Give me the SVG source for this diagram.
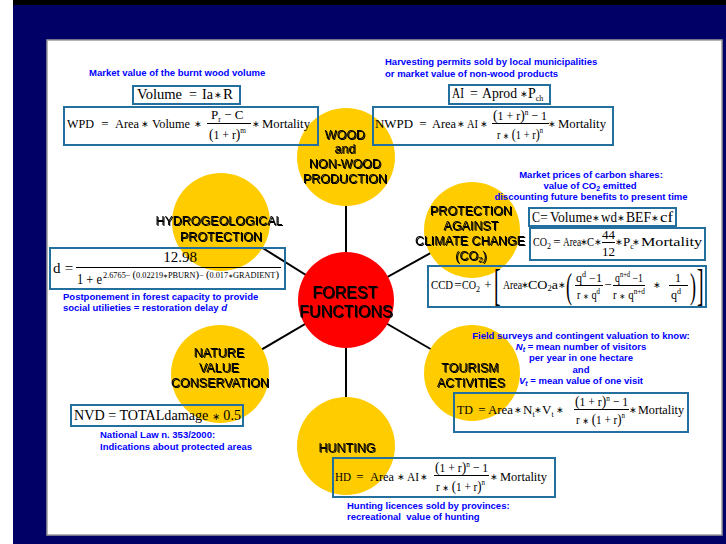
<svg xmlns="http://www.w3.org/2000/svg" width="726" height="544" viewBox="0 0 726 544">
<defs>
<style>
.bl{font-family:"Liberation Sans",Arial,sans-serif;font-weight:bold;font-size:9.5px;fill:#0000ff}
.lb{font-family:"Liberation Sans",Arial,sans-serif;font-size:12.5px;fill:#000;text-anchor:middle;filter:url(#sh)}
.m{font-family:"Liberation Serif","Times New Roman",serif;font-size:13px;fill:#000}
.m14{font-size:14px}
.m15{font-size:15px}
.c{text-anchor:middle}
.op{font-family:"DejaVu Sans",sans-serif;font-size:9px;fill:#000;text-anchor:middle}
.s{font-size:8px}
.bx{fill:none;stroke:#236f9e;stroke-width:2}
.fl{stroke:#000;stroke-width:1}
.yc{fill:#ffcc00}
.cn line{stroke:#000;stroke-width:2}
</style>
<filter id="sh" x="-10%" y="-30%" width="120%" height="160%">
<feOffset in="SourceAlpha" dx="0.8" dy="0.8" result="o"/>
<feMerge><feMergeNode in="o"/><feMergeNode in="SourceGraphic"/></feMerge>
</filter>
</defs>
<rect width="726" height="544" fill="#fff"/>
<rect x="13" y="0" width="713" height="544" fill="#000066"/>
<rect x="13" y="0" width="713" height="5" fill="#000"/>
<rect x="47" y="40" width="675" height="495" fill="#fff" stroke="#9a9a9a" stroke-width="1.5"/>

<g id="connectors" class="cn">
<line x1="346" y1="300" x2="346" y2="157"/>
<line x1="346" y1="300" x2="221" y2="222"/>
<line x1="346" y1="300" x2="472" y2="230"/>
<line x1="346" y1="300" x2="220" y2="374"/>
<line x1="346" y1="300" x2="472" y2="373"/>
<line x1="346" y1="300" x2="346" y2="446"/>
</g>

<g id="forest-functions">
<circle cx="346" cy="300" r="48" fill="#ff0000"/>
<text class="lb" style="font-size:16px"><tspan x="345" y="298">FOREST</tspan><tspan x="346" y="317">FUNCTIONS</tspan></text>
</g>
<g id="wood-production">
<circle class="yc" cx="346" cy="157" r="49"/>
<text class="lb"><tspan x="345" y="139">WOOD</tspan><tspan x="345" y="153">and</tspan><tspan x="345" y="168">NON-WOOD</tspan><tspan x="345" y="183">PRODUCTION</tspan></text>
</g>
<g id="hydrogeological">
<circle class="yc" cx="221" cy="222" r="49"/>
<text class="lb"><tspan x="219" y="225">HYDROGEOLOGICAL</tspan><tspan x="221" y="241">PROTECTION</tspan></text>
</g>
<g id="climate-change">
<circle class="yc" cx="472" cy="230" r="48"/>
<text class="lb"><tspan x="471" y="215">PROTECTION</tspan><tspan x="471" y="230">AGAINST</tspan><tspan x="470" y="245">CLIMATE CHANGE</tspan><tspan x="471" y="260">(CO<tspan font-size="8" dy="2">2</tspan><tspan dy="-2">)</tspan></tspan></text>
</g>
<g id="nature-value">
<circle class="yc" cx="220" cy="374" r="49"/>
<text class="lb"><tspan x="219" y="357">NATURE</tspan><tspan x="219" y="372">VALUE</tspan><tspan x="220" y="387">CONSERVATION</tspan></text>
</g>
<g id="tourism">
<circle class="yc" cx="472" cy="373" r="48"/>
<text class="lb"><tspan x="470" y="372">TOURISM</tspan><tspan x="471" y="387">ACTIVITIES</tspan></text>
</g>
<g id="hunting">
<circle class="yc" cx="346" cy="446" r="49"/>
<text class="lb" x="347" y="452">HUNTING</text>
</g>

<g id="wpd-formula">
<text class="bl" x="89" y="76">Market value of the burnt wood volume</text>
<rect class="bx" x="133" y="86" width="107" height="18"/>
<text class="m m14" x="137" y="99" textLength="45" lengthAdjust="spacingAndGlyphs">Volume</text>
<text class="m m14 c" x="193" y="99">=</text>
<text class="m m14" x="202" y="99" textLength="11" lengthAdjust="spacingAndGlyphs">Ia</text>
<text class="op" x="218" y="98">∗</text>
<text class="m m14" x="223" y="99" textLength="10" lengthAdjust="spacingAndGlyphs">R</text>
<rect class="bx" x="64" y="107" width="254" height="38"/>
<text class="m" x="67" y="128" textLength="27" lengthAdjust="spacingAndGlyphs">WPD</text>
<text class="m c" x="105" y="128">=</text>
<text class="m" x="115" y="128" textLength="24" lengthAdjust="spacingAndGlyphs">Area</text>
<text class="op" x="145" y="127">∗</text>
<text class="m" x="152" y="128" textLength="38" lengthAdjust="spacingAndGlyphs">Volume</text>
<text class="op" x="198" y="127">∗</text>
<text class="m" x="211" y="119">P<tspan class="s" dy="3">r</tspan><tspan dy="-3"> − C</tspan></text>
<line class="fl" x1="207" y1="123.5" x2="251" y2="123.5"/>
<text class="m" x="209" y="139" textLength="37" lengthAdjust="spacingAndGlyphs"><tspan font-size="15">(</tspan>1 + r<tspan font-size="15">)</tspan><tspan class="s" dy="-6">m</tspan></text>
<text class="op" x="256" y="127">∗</text>
<text class="m" x="262" y="128" textLength="48" lengthAdjust="spacingAndGlyphs">Mortality</text>
</g>

<g id="nwpd-formula">
<text class="bl" x="385" y="65">Harvesting permits sold by local municipalities</text>
<text class="bl" x="385" y="76.5">or market value of non-wood products</text>
<rect class="bx" x="449" y="85" width="101" height="19"/>
<text class="m m14" x="452" y="98" textLength="12" lengthAdjust="spacingAndGlyphs">AI</text>
<text class="m m14 c" x="474" y="98">=</text>
<text class="m m14" x="482" y="98" textLength="35" lengthAdjust="spacingAndGlyphs">Aprod</text>
<text class="op" x="524" y="97">∗</text>
<text class="m m14" x="528" y="98">P<tspan class="s" dy="3">ch</tspan></text>
<rect class="bx" x="373" y="107" width="240" height="38"/>
<text class="m" x="375" y="128" textLength="38" lengthAdjust="spacingAndGlyphs">NWPD</text>
<text class="m c" x="423" y="128">=</text>
<text class="m" x="432" y="128" textLength="24" lengthAdjust="spacingAndGlyphs">Area</text>
<text class="op" x="461" y="127">∗</text>
<text class="m" x="467" y="128" textLength="11" lengthAdjust="spacingAndGlyphs">AI</text>
<text class="op" x="484" y="127">∗</text>
<text class="m" x="493" y="120" textLength="54" lengthAdjust="spacingAndGlyphs"><tspan font-size="15">(</tspan>1 + r<tspan font-size="15">)</tspan><tspan class="s" dy="-5">n</tspan><tspan dy="5"> − 1</tspan></text>
<line class="fl" x1="492" y1="123.5" x2="549" y2="123.5"/>
<text class="m" x="497" y="139" textLength="46" lengthAdjust="spacingAndGlyphs">r <tspan style="font-family:'DejaVu Sans';font-size:9px">∗</tspan> <tspan font-size="15">(</tspan>1 + r<tspan font-size="15">)</tspan><tspan class="s" dy="-6">n</tspan></text>
<text class="op" x="552" y="127">∗</text>
<text class="m" x="558" y="128" textLength="48" lengthAdjust="spacingAndGlyphs">Mortality</text>
</g>

<g id="carbon-formula">
<text class="bl c" x="591" y="178">Market prices of carbon shares:</text>
<text class="bl c" x="590" y="189">value of CO<tspan font-size="7" dy="2">2</tspan><tspan dy="-2"> emitted</tspan></text>
<text class="bl c" x="591" y="200">discounting future benefits to present time</text>
<rect class="bx" x="529" y="208" width="147" height="18"/>
<text class="m m14" x="532" y="222" textLength="8" lengthAdjust="spacingAndGlyphs">C</text>
<text class="m m14 c" x="544" y="222">=</text>
<text class="m m14" x="550" y="222" textLength="42" lengthAdjust="spacingAndGlyphs">Volume</text>
<text class="op" x="596" y="221">∗</text>
<text class="m m14" x="601" y="222" textLength="16" lengthAdjust="spacingAndGlyphs">wd</text>
<text class="op" x="621" y="221">∗</text>
<text class="m m14" x="626" y="222" textLength="25" lengthAdjust="spacingAndGlyphs">BEF</text>
<text class="op" x="655" y="221">∗</text>
<text class="m m14" x="660" y="222" textLength="13" lengthAdjust="spacingAndGlyphs">cf</text>
<rect class="bx" x="530" y="228" width="175" height="32"/>
<text class="m" x="533" y="246" textLength="14" lengthAdjust="spacingAndGlyphs">CO</text>
<text class="m s" x="547" y="249">2</text>
<text class="m c" x="557" y="246">=</text>
<text class="m" x="563" y="246" textLength="18" lengthAdjust="spacingAndGlyphs">Area</text>
<text class="op" x="584" y="245">∗</text>
<text class="m" x="587" y="246" textLength="7" lengthAdjust="spacingAndGlyphs">C</text>
<text class="op" x="598" y="245">∗</text>
<text class="m c" x="608.5" y="239">44</text>
<line class="fl" x1="602" y1="242.5" x2="615" y2="242.5"/>
<text class="m c" x="608.5" y="256">12</text>
<text class="op" x="619" y="245">∗</text>
<text class="m" x="623" y="246">P<tspan class="s" dy="3">c</tspan></text>
<text class="op" x="636" y="245">∗</text>
<text class="m" x="641" y="246" textLength="61" lengthAdjust="spacingAndGlyphs">Mortality</text>
<rect class="bx" x="428" y="266" width="278" height="41"/>
<text class="m" x="431" y="289" textLength="22" lengthAdjust="spacingAndGlyphs">CCD</text>
<text class="m c" x="458" y="289">=</text>
<text class="m" x="462" y="289" textLength="14" lengthAdjust="spacingAndGlyphs">CO</text>
<text class="m s" x="476" y="292">2</text>
<text class="m c" x="488" y="289">+</text>
<text class="m" transform="translate(494 300) scale(0.45 1)" style="font-size:44px">[</text>
<text class="m" x="503" y="289" textLength="19" lengthAdjust="spacingAndGlyphs">Area</text>
<text class="op" x="525" y="288">∗</text>
<text class="m" x="528" y="289" textLength="30" lengthAdjust="spacingAndGlyphs">CO<tspan class="s" dy="2">2</tspan><tspan dy="-2">a</tspan></text>
<text class="op" x="562" y="288">∗</text>
<text class="m" transform="translate(566 298) scale(0.5 1)" style="font-size:36px">(</text>
<text class="m" x="576" y="282" style="font-size:12px" textLength="26" lengthAdjust="spacingAndGlyphs">q<tspan class="s" dy="-5">d</tspan><tspan dy="5"> −1</tspan></text>
<line class="fl" x1="575" y1="285.5" x2="603" y2="285.5"/>
<text class="m" x="577" y="299" style="font-size:12px" textLength="23" lengthAdjust="spacingAndGlyphs">r <tspan style="font-family:'DejaVu Sans';font-size:8px">∗</tspan> q<tspan class="s" dy="-5">d</tspan></text>
<text class="m c" x="608" y="289">−</text>
<text class="m" x="615" y="282" style="font-size:12px" textLength="28" lengthAdjust="spacingAndGlyphs">q<tspan class="s" dy="-5">n+d</tspan><tspan dy="5"> −1</tspan></text>
<line class="fl" x1="613" y1="285.5" x2="645" y2="285.5"/>
<text class="m" x="613" y="299" style="font-size:12px" textLength="32" lengthAdjust="spacingAndGlyphs">r <tspan style="font-family:'DejaVu Sans';font-size:8px">∗</tspan> q<tspan class="s" dy="-5">n+d</tspan></text>
<text class="op" x="657" y="288">∗</text>
<text class="m c" x="678" y="282" style="font-size:12px">1</text>
<line class="fl" x1="669" y1="285.5" x2="688" y2="285.5"/>
<text class="m" x="671" y="299" style="font-size:12px">q<tspan class="s" dy="-5">d</tspan></text>
<text class="m" transform="translate(690 298) scale(0.5 1)" style="font-size:36px">)</text>
<text class="m" transform="translate(697 300) scale(0.45 1)" style="font-size:44px">]</text>
</g>

<g id="hydro-formula">
<rect class="bx" x="50" y="248" width="235" height="41"/>
<text class="m m15" x="53" y="273">d</text>
<text class="m m15 c" x="69" y="273">=</text>
<text class="m m15 c" x="180" y="262">12.98</text>
<line class="fl" x1="76" y1="267.5" x2="281" y2="267.5"/>
<text class="m m15" x="77" y="284" textLength="25" lengthAdjust="spacingAndGlyphs">1 + e</text>
<text class="m" x="103" y="278" style="font-size:8.5px" textLength="176" lengthAdjust="spacingAndGlyphs">2.6765− <tspan font-size="11">(</tspan>0.02219<tspan style="font-family:'DejaVu Sans';font-size:6px">∗</tspan>PBURN<tspan font-size="11">)</tspan>− <tspan font-size="11">(</tspan>0.017<tspan style="font-family:'DejaVu Sans';font-size:6px">∗</tspan>GRADIENT<tspan font-size="11">)</tspan></text>
<text class="bl" x="63" y="300">Postponement in forest capacity to provide</text>
<text class="bl" x="63" y="311">social utilieties = restoration delay <tspan font-style="italic">d</tspan></text>
</g>

<g id="nvd-formula">
<rect class="bx" x="71" y="405" width="172" height="21"/>
<text class="m m15" x="74" y="420" textLength="167" lengthAdjust="spacingAndGlyphs">NVD = TOTALdamage <tspan style="font-family:'DejaVu Sans';font-size:10px">∗</tspan> 0.5</text>
<text class="bl" x="100" y="438">National Law n. 353/2000:</text>
<text class="bl" x="100" y="450">Indications about protected areas</text>
</g>

<g id="td-formula">
<text class="bl c" x="581" y="339">Field surveys and contingent valuation to know:</text>
<text class="bl c" x="581" y="349.5"><tspan font-style="italic">N</tspan><tspan font-size="7" dy="2" font-style="italic">t</tspan><tspan dy="-2"> = mean number of visitors</tspan></text>
<text class="bl c" x="581" y="361">per year in one hectare</text>
<text class="bl c" x="581" y="373">and</text>
<text class="bl c" x="581" y="384"><tspan font-style="italic">V</tspan><tspan font-size="7" dy="2" font-style="italic">t</tspan><tspan dy="-2"> = mean value of one visit</tspan></text>
<rect class="bx" x="454" y="393" width="234" height="39"/>
<text class="m" x="457" y="414" textLength="16" lengthAdjust="spacingAndGlyphs">TD</text>
<text class="m c" x="482" y="414">=</text>
<text class="m" x="488" y="414" textLength="25" lengthAdjust="spacingAndGlyphs">Area</text>
<text class="op" x="518" y="413">∗</text>
<text class="m" x="523" y="414">N<tspan class="s" dy="3">t</tspan></text>
<text class="op" x="538" y="413">∗</text>
<text class="m" x="542" y="414">V<tspan class="s" dy="3">t</tspan></text>
<text class="op" x="560" y="413">∗</text>
<text class="m" x="575" y="406" textLength="53" lengthAdjust="spacingAndGlyphs"><tspan font-size="15">(</tspan>1 + r<tspan font-size="15">)</tspan><tspan class="s" dy="-5">n</tspan><tspan dy="5"> − 1</tspan></text>
<line class="fl" x1="574" y1="409.5" x2="629" y2="409.5"/>
<text class="m" x="576" y="424" textLength="49" lengthAdjust="spacingAndGlyphs">r <tspan style="font-family:'DejaVu Sans';font-size:9px">∗</tspan> <tspan font-size="15">(</tspan>1 + r<tspan font-size="15">)</tspan><tspan class="s" dy="-6">n</tspan></text>
<text class="op" x="633" y="413">∗</text>
<text class="m" x="638" y="414" textLength="46" lengthAdjust="spacingAndGlyphs">Mortality</text>
</g>

<g id="hd-formula">
<rect class="bx" x="333" y="458" width="222" height="39"/>
<text class="m" x="335" y="481" textLength="16" lengthAdjust="spacingAndGlyphs">HD</text>
<text class="m c" x="360" y="481">=</text>
<text class="m" x="370" y="481" textLength="24" lengthAdjust="spacingAndGlyphs">Area</text>
<text class="op" x="401" y="480">∗</text>
<text class="m" x="407" y="481" textLength="12" lengthAdjust="spacingAndGlyphs">AI</text>
<text class="op" x="424" y="480">∗</text>
<text class="m" x="435" y="472" textLength="53" lengthAdjust="spacingAndGlyphs"><tspan font-size="15">(</tspan>1 + r<tspan font-size="15">)</tspan><tspan class="s" dy="-5">n</tspan><tspan dy="5"> − 1</tspan></text>
<line class="fl" x1="434" y1="475.5" x2="489" y2="475.5"/>
<text class="m" x="436" y="491" textLength="49" lengthAdjust="spacingAndGlyphs">r <tspan style="font-family:'DejaVu Sans';font-size:9px">∗</tspan> <tspan font-size="15">(</tspan>1 + r<tspan font-size="15">)</tspan><tspan class="s" dy="-6">n</tspan></text>
<text class="op" x="494" y="480">∗</text>
<text class="m" x="500" y="481" textLength="47" lengthAdjust="spacingAndGlyphs">Mortality</text>
<text class="bl" x="347" y="509">Hunting licences sold by provinces:</text>
<text class="bl" x="347" y="520" style="white-space:pre">recreational  value of hunting</text>
</g>
</svg>
